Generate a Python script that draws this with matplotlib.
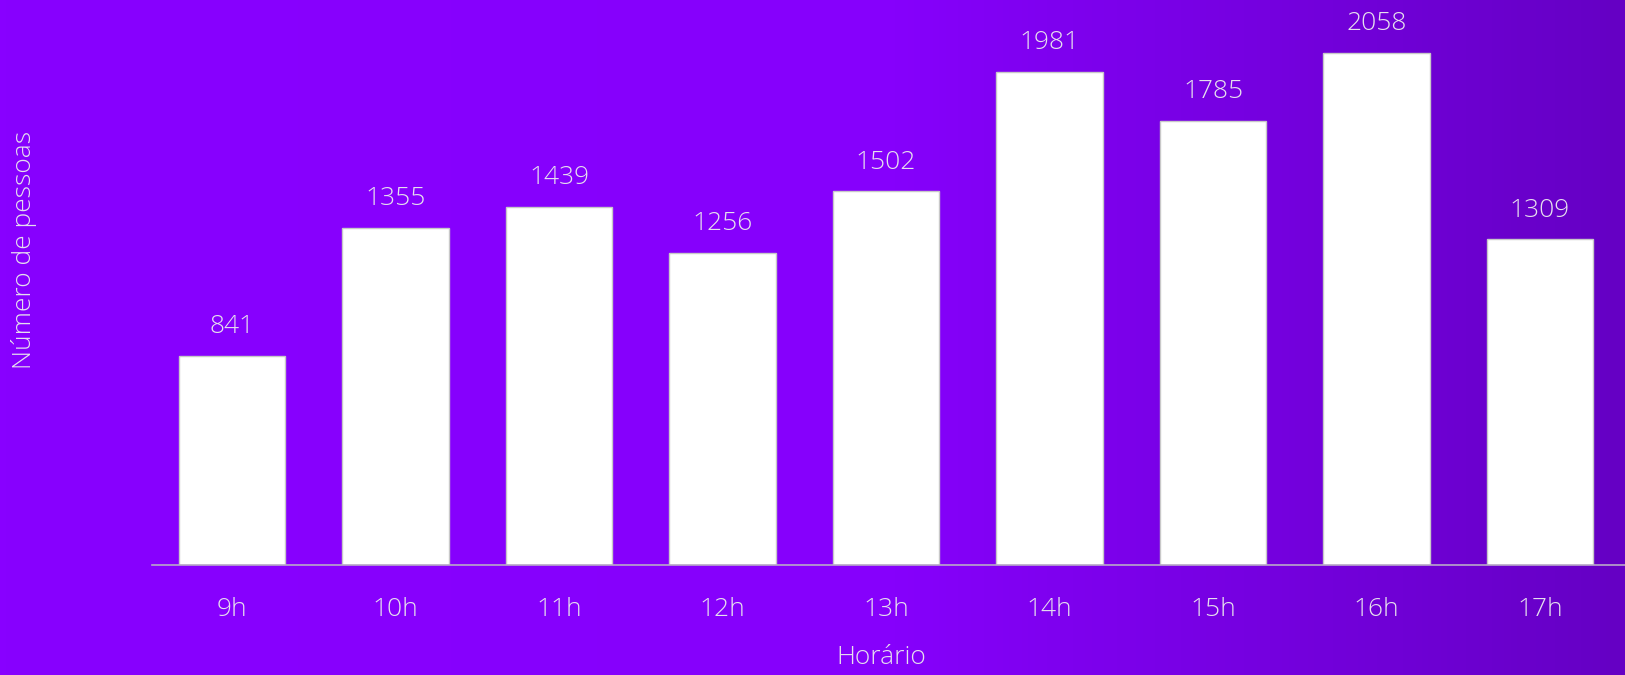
import matplotlib
matplotlib.use('Agg')
import matplotlib.pyplot as plt
import numpy as np
from matplotlib.colors import LinearSegmentedColormap

# dados
horarios = ['9h', '10h', '11h', '12h', '13h', '14h', '15h', '16h', '17h']
pessoas = [841, 1355, 1439, 1256, 1502, 1981, 1785, 2058, 1309]

plt.rcParams['font.family'] = ['Open Sans', 'DejaVu Sans']
plt.rcParams['font.weight'] = 'light'
cor_texto = '#E6E0EE'
tam = 19

fig = plt.figure(figsize=(16.25, 6.75), dpi=100)

# fundo em degradê
bg = fig.add_axes([0, 0, 1, 1])
cmap = LinearSegmentedColormap.from_list('roxo', [(0.0, '#8800FF'), (0.55, '#8600FC'), (1.0, '#6500C4')])
grad = np.linspace(0, 1, 512).reshape(1, -1)
bg.imshow(grad, aspect='auto', cmap=cmap, extent=[0, 1, 0, 1])
bg.axis('off')

ax = fig.add_axes([152 / 1625, 110 / 675, 1 - 152 / 1625, 565 / 675])
ax.set_facecolor('none')
x = np.arange(len(horarios))
barras = ax.bar(x, pessoas, width=0.65, color='white', edgecolor='#C8C8C8', linewidth=1)
ax.set_xlim(-0.49, 8.52)
ax.set_ylim(0, 2271)

for b, v in zip(barras, pessoas):
    ax.annotate(str(v), (b.get_x() + b.get_width() / 2, v), xytext=(0, 12), textcoords='offset points',
                ha='center', va='bottom', fontsize=tam, color=cor_texto)

ax.set_xticks(x)
ax.set_xticklabels(horarios, fontsize=tam, color=cor_texto)
ax.tick_params(axis='x', length=0, pad=23)
ax.set_yticks([])
for s in ['top', 'right', 'left']:
    ax.spines[s].set_visible(False)
ax.spines['bottom'].set_color('#B8A8C8')
ax.spines['bottom'].set_linewidth(1.2)

fig.text(881 / 1625, 1 - 658 / 675, 'Horário', ha='center', va='center', fontsize=tam, color=cor_texto)
fig.text(24 / 1625, 1 - 250 / 675, 'Número de pessoas', ha='center', va='center', rotation=90,
         fontsize=tam, color=cor_texto)

fig.savefig('out.png', dpi=100)
